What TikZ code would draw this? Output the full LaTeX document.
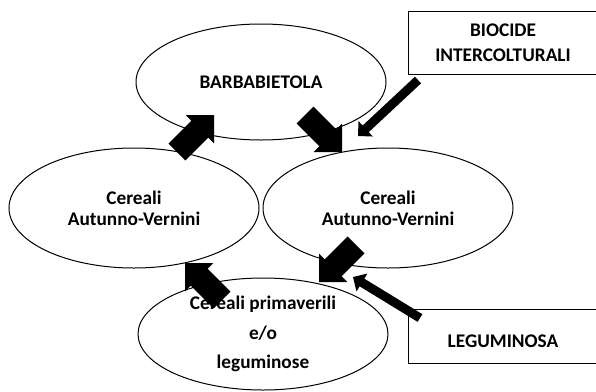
\documentclass[tikz,border=0pt]{standalone}
\usepackage{fontspec}
\setmainfont{Carlito}
\usetikzlibrary{calc, shapes.geometric}
\tikzset{
  rccrop/.style={ellipse, draw, line width=1pt, minimum width=250pt, inner sep=0pt, align=center,
    font=\bfseries\fontsize{19.3}{21}\selectfont},
  rcinput/.style={rectangle, inner sep=0pt, minimum width=188pt, align=center,
    font=\bfseries\fontsize{19.3}{25}\selectfont},
  rcside/.style={line width=1pt},
}
% filled arrow: tail, tip, half shaft width, head length
\newcommand{\fatarrow}[4]{%
  \fill (#2) -- ($(#2)!#4!(#1)!#4!90:(#1)$) -- ($(#2)!#4!(#1)!#3!90:(#1)$)
    -- ($(#1)!#3!-90:(#2)$) -- ($(#1)!#3!90:(#2)$)
    -- ($(#2)!#4!(#1)!#3!-90:(#1)$) -- ($(#2)!#4!(#1)!#4!-90:(#1)$) -- cycle;}

\begin{document}
\begin{tikzpicture}[x=1pt, y=-1pt]
  \useasboundingbox (0,0) rectangle (596,391);

  % Crops of the rotation.
  \node[rccrop, minimum height=116pt] (barb) at (261,82) {BARBABIETOLA};
  \node[rccrop, minimum height=120pt] (cer_left) at (134,208) {Cereali\\Autunno-Vernini};
  \node[rccrop, minimum height=120pt] (cer_right) at (388,208) {Cereali\\Autunno-Vernini};
  \node[rccrop, minimum height=112pt, font=\bfseries\fontsize{19.3}{29.5}\selectfont]
    (cer_spring) at (263,334) {Cereali primaverili\\e/o\\leguminose};

  % Inputs (boxes cut by the right margin).
  \node[rcinput, minimum height=62pt] (biocide) at (503,43) {BIOCIDE\\INTERCOLTURALI};
  \node[rcinput, minimum height=53pt,
    label={[font=\bfseries\fontsize{19.3}{25}\selectfont, yshift=-5pt]center:LEGUMINOSA}]
    (legum) at (503,336.5) {};
  \draw[rcside] (biocide.north east) -- (biocide.north west) -- (biocide.south west) -- (biocide.south east);
  \draw[rcside] (legum.north east) -- (legum.north west) -- (legum.south west) -- (legum.south east);

  % Arrow ends.
  \coordinate (up_tail) at (177,152);
  \coordinate (up_tip) at (214,115);
  \coordinate (down_tail) at (305,115);
  \coordinate (down_tip) at (342,152);
  \coordinate (back_tail) at (356,245);
  \coordinate (back_tip) at (319,282);
  \coordinate (left_tail) at (222,300);
  \coordinate (left_tip) at (185,263);
  \coordinate (bio_tail) at (418,80);
  \coordinate (bio_tip) at (358,136);
  \coordinate (leg_tail) at (420,318);
  \coordinate (leg_tip) at (353,277);

  % Rotation arrows.
  \fatarrow{up_tail}{up_tip}{12pt}{20pt}
  \fatarrow{down_tail}{down_tip}{12pt}{20pt}
  \fatarrow{back_tail}{back_tip}{12pt}{20pt}
  \fatarrow{left_tail}{left_tip}{12pt}{20pt}

  % Input arrows.
  \fatarrow{bio_tail}{bio_tip}{4.5pt}{10.5pt}
  \fatarrow{leg_tail}{leg_tip}{4.5pt}{10.5pt}
\end{tikzpicture}
\end{document}
